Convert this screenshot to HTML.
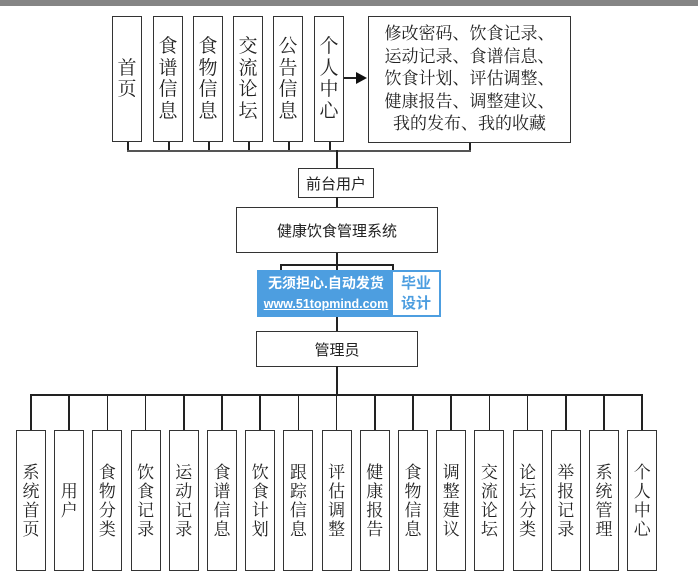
<!DOCTYPE html>
<html><head><meta charset="utf-8"><style>
body{margin:0;width:698px;height:587px;background:#fff;position:relative;overflow:hidden;font-family:"Liberation Serif","Noto Serif CJK SC","Noto Sans CJK SC",serif;color:#222}
.b{position:absolute;border:1.5px solid #333;box-sizing:border-box;background:#fff;display:flex;align-items:center;justify-content:center;text-align:center}
.v{font-size:19px;line-height:21.5px;width:20px;word-break:break-all}
.h{position:absolute;background:#222}
.s{font-family:"Liberation Sans","Noto Sans CJK SC",sans-serif;font-size:15px}
.bv{font-size:17px;line-height:19px;width:18px;word-break:break-all}
</style></head><body>
<div style="position:absolute;left:0;top:0;width:698px;height:6px;background:#858585"></div>

<div class="b" style="left:112px;top:16px;width:30px;height:126px"><div class="v">首页</div></div>
<div class="b" style="left:153px;top:16px;width:30px;height:126px"><div class="v">食谱信息</div></div>
<div class="b" style="left:193px;top:16px;width:30px;height:126px"><div class="v">食物信息</div></div>
<div class="b" style="left:233px;top:16px;width:30px;height:126px"><div class="v">交流论坛</div></div>
<div class="b" style="left:273px;top:16px;width:30px;height:126px"><div class="v">公告信息</div></div>
<div class="b" style="left:314px;top:16px;width:30px;height:126px"><div class="v">个人中心</div></div>
<div class="b" style="left:368px;top:16px;width:203px;height:127px;font-size:17px;line-height:22.5px"><div>修改密码、饮食记录、<br>运动记录、食谱信息、<br>饮食计划、评估调整、<br>健康报告、调整建议、<br>我的发布、我的收藏</div></div>
<div class="h" style="left:344px;top:77px;width:14px;height:1.5px"></div>
<div style="position:absolute;left:356px;top:72px;width:0;height:0;border-left:11px solid #111;border-top:6px solid transparent;border-bottom:6px solid transparent"></div>

<div class="h" style="left:127px;top:142px;width:1.5px;height:9px"></div>
<div class="h" style="left:168px;top:142px;width:1.5px;height:9px"></div>
<div class="h" style="left:208px;top:142px;width:1.5px;height:9px"></div>
<div class="h" style="left:248px;top:142px;width:1.5px;height:9px"></div>
<div class="h" style="left:288px;top:142px;width:1.5px;height:9px"></div>
<div class="h" style="left:329px;top:142px;width:1.5px;height:9px"></div>
<div class="h" style="left:469px;top:143px;width:1.5px;height:8px"></div>
<div class="h" style="left:127px;top:150px;width:344px;height:1.5px;background:#555"></div>
<div class="h" style="left:336px;top:150px;width:1.5px;height:19px"></div>
<div class="b s" style="left:298px;top:168px;width:76px;height:30px">前台用户</div>
<div class="h" style="left:336px;top:197px;width:1.5px;height:11px"></div>
<div class="b s" style="left:236px;top:207px;width:202px;height:46px">健康饮食管理系统</div>
<div class="h" style="left:336px;top:253px;width:1.5px;height:78px"></div>
<div class="h" style="left:280px;top:264px;width:113px;height:1.5px"></div>
<div class="h" style="left:280px;top:264px;width:1.5px;height:8px"></div>
<div class="h" style="left:392px;top:264px;width:1.5px;height:8px"></div>
<div style="position:absolute;left:257px;top:270px;width:184px;height:47px;background:#4d9ee0"></div>
<div style="position:absolute;left:259px;top:272px;width:134px;color:#fff;font-family:'Liberation Sans','Noto Sans CJK SC',sans-serif;text-align:center">
<div style="font-size:14px;font-weight:bold;line-height:22px">无须担心.自动发货</div>
<div style="font-size:12.5px;font-weight:bold;line-height:20px;text-decoration:underline">www.51topmind.com</div></div>
<div style="position:absolute;left:393px;top:272px;width:46px;height:43px;background:#fff;color:#4d9ee0;font-family:'Liberation Sans','Noto Sans CJK SC',sans-serif;font-size:15px;font-weight:bold;line-height:20px;text-align:center;padding-top:2px;box-sizing:border-box">毕业<br>设计</div>
<div class="b s" style="left:256px;top:331px;width:162px;height:36px">管理员</div>
<div class="h" style="left:336px;top:366px;width:1.5px;height:29px"></div>
<div class="h" style="left:31px;top:394px;width:612px;height:1.5px"></div>
<div id="bot"></div>
<script>
var t=["系统首页","用户","食物分类","饮食记录","运动记录","食谱信息","饮食计划","跟踪信息","评估调整","健康报告","食物信息","调整建议","交流论坛","论坛分类","举报记录","系统管理","个人中心"];
var h="";
for(var i=0;i<17;i++){var c=31+i*38.2;
h+='<div class="h" style="left:'+(c-0.75)+'px;top:394px;width:1.5px;height:37px"></div>';
h+='<div class="b" style="left:'+(c-15)+'px;top:430px;width:30px;height:141px"><div class="bv">'+t[i]+'</div></div>';}
document.getElementById("bot").innerHTML=h;
</script>
</body></html>
